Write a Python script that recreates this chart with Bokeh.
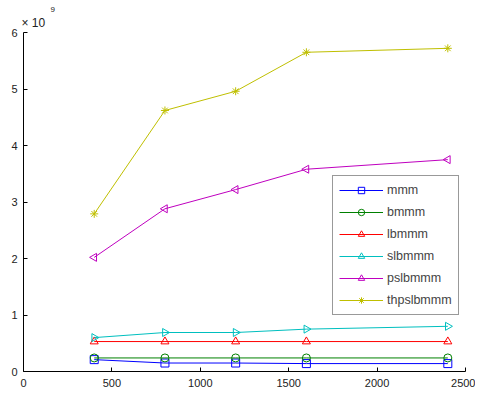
import math
from bokeh.plotting import figure
from bokeh.models import Range1d, Legend, LegendItem, Title, FixedTicker
from bokeh.embed import file_html
from bokeh.resources import INLINE

x_vals = [400, 800, 1200, 1600, 2400]
mmm = [0.21e9, 0.15e9, 0.15e9, 0.14e9, 0.14e9]
bmmm = [0.24e9, 0.24e9, 0.24e9, 0.24e9, 0.24e9]
lbmmm = [0.53e9, 0.53e9, 0.53e9, 0.53e9, 0.53e9]
slbmmm = [0.60e9, 0.69e9, 0.69e9, 0.75e9, 0.80e9]
pslbmmm = [2.02e9, 2.88e9, 3.22e9, 3.58e9, 3.75e9]
thpslbmmm = [2.79e9, 4.62e9, 4.96e9, 5.65e9, 5.72e9]
series_names = ["mmm", "bmmm", "lbmmm", "slbmmm", "pslbmmm", "thpslbmmm"]
x_ticks = [0, 500, 1000, 1500, 2000, 2500]
y_ticks = [0, 1e9, 2e9, 3e9, 4e9, 5e9, 6e9]
y_tick_labels = {0: "0", 1e9: "1", 2e9: "2", 3e9: "3", 4e9: "4", 5e9: "5", 6e9: "6"}

FONT = "Liberation Sans"
p = figure(width=475, height=391, output_backend="svg", toolbar_location=None,
           x_range=Range1d(0, 2500), y_range=Range1d(0, 6e9),
           min_border_left=23, min_border_right=10, min_border_top=32, min_border_bottom=20)
p.outline_line_color = None
p.grid.grid_line_color = None
p.background_fill_color = "white"
p.border_fill_color = "white"

# exponent "9" (outer title) and "×10" (inner title, next to the frame)
p.title.text = "9"
p.title.text_font = FONT
p.title.text_font_size = "8px"
p.title.text_font_style = "normal"
p.title.text_color = "#222222"
p.title.align = "left"
p.title.offset = 27
p.title.standoff = 0
p.add_layout(Title(text="× 10", text_font=FONT, text_font_size="12px", text_font_style="normal",
                   text_color="#222222", align="left", offset=-2, standoff=5), "above")

for ax in (p.xaxis[0], p.yaxis[0]):
    ax.major_tick_in = 4
    ax.major_tick_out = 0
    ax.minor_tick_line_color = None
    ax.axis_line_color = "black"
    ax.major_tick_line_color = "black"
    ax.major_label_text_font = FONT
    ax.major_label_text_font_size = "11px"
    ax.major_label_text_color = "#222222"
p.xaxis[0].ticker = FixedTicker(ticks=x_ticks)
p.yaxis[0].ticker = FixedTicker(ticks=y_ticks)
p.yaxis[0].major_label_overrides = y_tick_labels
p.xaxis[0].major_label_standoff = 7
p.yaxis[0].major_label_standoff = 6

colors = ["#0000ff", "#008000", "#ff0000", "#00bfbf", "#bf00bf", "#bfbf00"]
markers = ["square", "circle", "triangle", "triangle", "triangle", "asterisk"]
angles = [0, 0, 0, -math.pi / 2, math.pi / 2, 0]
data = [mmm, bmmm, lbmmm, slbmmm, pslbmmm, thpslbmmm]

items = []
for name, ys, c, m, a in zip(series_names, data, colors, markers, angles):
    ln = p.line(x_vals, ys, line_color=c, line_width=1)
    sc = p.scatter(x=x_vals, y=ys, angle=[a] * len(x_vals), marker=m, size=8,
                   line_color=c, fill_color=None, line_width=1)
    items.append(LegendItem(label=name, renderers=[ln, sc], index=0))

legend = Legend(items=items, location=(309, 56), border_line_color="#333333",
                border_line_width=1, background_fill_alpha=1,
                label_text_font=FONT, label_text_font_size="12.5px",
                glyph_width=44, glyph_height=16, spacing=6, padding=6,
                label_standoff=4, margin=0)
p.add_layout(legend, "center")

open("out.html", "w").write(file_html(p, INLINE))
